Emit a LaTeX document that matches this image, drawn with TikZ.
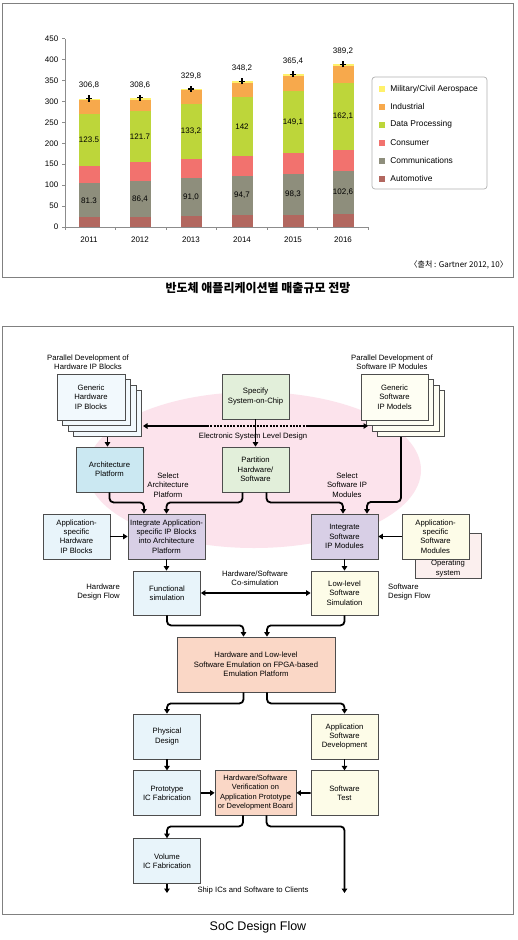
\documentclass[tikz,border=0pt]{standalone}
\usepackage{fontspec}
\setmainfont{Liberation Sans}
\newfontfamily\krfont{Noto Sans CJK KR}
\usetikzlibrary{arrows.meta,positioning,calc}

\definecolor{chAuto}{HTML}{B2675F}
\definecolor{chComm}{HTML}{8E8E7C}
\definecolor{chCons}{HTML}{F2726E}
\definecolor{chData}{HTML}{BDD63A}
\definecolor{chInd}{HTML}{F7A94C}
\definecolor{chMil}{HTML}{FFF16B}
\definecolor{fwFrame}{HTML}{808080}
\definecolor{fwLine}{HTML}{4D4D4D}
\definecolor{fwBlue}{HTML}{E8F4FA}
\definecolor{fwStackB}{HTML}{F2F9FD}
\definecolor{fwArch}{HTML}{CBE8F2}
\definecolor{fwGreen}{HTML}{E2EFDA}
\definecolor{fwLilac}{HTML}{D8CFE6}
\definecolor{fwCream}{HTML}{FDFCE8}
\definecolor{fwStackC}{HTML}{FEFEF3}
\definecolor{fwPeach}{HTML}{FAD7C6}
\definecolor{fwPink}{HTML}{FCE3EC}
\definecolor{fwOS}{HTML}{FBEFEE}

\newcommand\chfont{\fontsize{8}{9.5}\selectfont}
\newcommand\legfont{\fontsize{8.4}{10}\selectfont}
\newcommand\flowfont{\fontsize{7.7}{9.4}\selectfont}

\tikzset{
  panel/.style={draw=fwFrame, line width=0.9pt},
  axisline/.style={draw=black!45, line width=0.6pt},
  chtext/.style={font=\chfont, inner sep=0pt},
  legsq/.style={minimum size=6pt, inner sep=0pt},
  blk/.style={
    draw=fwLine, line width=0.8pt, minimum width=67pt, minimum height=45pt,
    inner sep=1pt, align=center, font=\flowfont
  },
  hwbox/.style={blk, fill=fwBlue},
  hwstack/.style={blk, fill=fwStackB, minimum width=68pt, minimum height=46pt},
  swstack/.style={blk, fill=fwStackC, minimum height=46pt},
  archbox/.style={blk, fill=fwArch},
  gnbox/.style={blk, fill=fwGreen},
  lilbox/.style={blk, fill=fwLilac},
  swbox/.style={blk, fill=fwCream},
  pcbox/.style={blk, fill=fwPeach},
  osbox/.style={blk, fill=fwOS, minimum width=66pt},
  flow/.style={-{Triangle[length=4.5pt,width=5.5pt]}, line width=1.8pt, rounded corners=4pt},
  tag/.style={font=\flowfont, align=center, inner sep=0pt}
}

\begin{document}
\begin{tikzpicture}[x=1pt, y=-1pt]
  \useasboundingbox[fill=white] (0,0) rectangle (518,940);

  % ---- market chart ----
  \draw[panel] (2,3) rectangle (513,277);
  \begin{scope}[shift={(0,227)}, y=0.4185pt]
    \foreach \xc/\sa/\sb/\sc/\sd/\se/\tot/\lco/\ldat/\ltot in {
      89/23/81.3/42/123.5/33/306.8/{81.3}/{123.5}/{306,8},
      140/23/86.4/45/121.7/28/308.6/{86,4}/{121.7}/{308,6},
      191/25.5/91/45/133.2/32.1/329.8/{91,0}/{133,2}/{329,8},
      242/28/94.7/47/142/31.5/348.2/{94,7}/{142}/{348,2},
      293/28/98.3/50/149.1/35/365.4/{98,3}/{149,1}/{365,4},
      343/31/102.6/49.5/162.1/39.5/389.2/{102,6}/{162,1}/{389,2}}
    {
      \pgfmathsetmacro\ya{\sa}
      \pgfmathsetmacro\yb{\ya+\sb}
      \pgfmathsetmacro\yc{\yb+\sc}
      \pgfmathsetmacro\yd{\yc+\sd}
      \pgfmathsetmacro\ye{\yd+\se}
      \pgfmathsetmacro\ymc{(\ya+\yb)/2}
      \pgfmathsetmacro\ymd{(\yc+\yd)/2}
      \fill[chAuto] (\xc-10.5,0) rectangle (\xc+10.5,\ya);
      \fill[chComm] (\xc-10.5,\ya) rectangle (\xc+10.5,\yb);
      \fill[chCons] (\xc-10.5,\yb) rectangle (\xc+10.5,\yc);
      \fill[chData] (\xc-10.5,\yc) rectangle (\xc+10.5,\yd);
      \fill[chInd] (\xc-10.5,\yd) rectangle (\xc+10.5,\ye);
      \fill[chMil] (\xc-10.5,\ye) rectangle (\xc+10.5,\tot);
      \draw[line width=1.1pt] (\xc-3.2,\tot) -- (\xc+3.2,\tot) (\xc,\tot-7.5) -- (\xc,\tot+7.5);
      \node[chtext] at (\xc,\ymc) {\lco};
      \node[chtext] at (\xc,\ymd) {\ldat};
      \node[chtext] at (\xc,\tot+31) {\ltot};
    }
    \draw[axisline] (65,0) -- (65,450);
    \draw[axisline] (65,0) -- (368,0);
    \foreach \v in {0,50,...,450} {
      \draw[axisline] (62,\v) -- (65,\v);
      \node[chtext, anchor=east] at (58.5,\v) {\v};
    }
    \foreach \k in {0,...,6}
      \draw[axisline] (65+50.5*\k,0) -- (65+50.5*\k,-7);
  \end{scope}
  \foreach \xc/\yr in {89/2011,140/2012,191/2013,242/2014,293/2015,343/2016}
    \node[chtext] (yr\yr) at (\xc,240) {\yr};

  \draw[draw=black!30, line width=0.7pt, rounded corners=3pt] (372,77) rectangle (487,189);
  \foreach \c/\t [count=\k from 0] in {chMil/{Military/Civil Aerospace}, chInd/Industrial,
      chData/{Data Processing}, chCons/Consumer, chComm/Communications, chAuto/Automotive}
    \node[legsq, fill=\c, label={[chtext, font=\legfont, xshift=5.5pt]east:\t}] (leg\k) at (381.5,89+17.9*\k) {};

  \node[font=\krfont\fontsize{8}{9.5}\selectfont, anchor=east, inner sep=0pt] (src) at (508,265) {〈출처 : Gartner 2012, 10〉};
  \node[font=\krfont\bfseries\fontsize{12}{14}\selectfont] (cap1) at (258,288) {반도체 애플리케이션별 매출규모 전망};

  % ---- SoC design flow ----
  \draw[panel] (2,326) rectangle (513,914);
  \fill[fwPink] (254,470) ellipse [x radius=167pt, y radius=78pt];

  \foreach \k in {3,2,1} {
    \node[hwstack] (hwip\k) at ($(91,397)+(5.5*\k,5.5*\k)$) {};
    \node[swstack] (swip\k) at ($(394.5,397)+(5.5*\k,5.5*\k)$) {};
  }
  \node[hwstack] (hwip) at (91,397) {Generic\\Hardware\\IP Blocks};
  \node[swstack] (swip) at (394.5,397) {Generic\\Software\\IP Models};
  \node[gnbox] (soc) at (255.5,396.5) {Specify\\System-on-Chip};
  \node[tag] (hwpar) at (88,362) {Parallel Development of\\Hardware IP Blocks};
  \node[tag] (swpar) at (392,362) {Parallel Development of\\Software IP Modules};

  \node[archbox] (arch) at (109.5,469.5) {Architecture\\Platform};
  \node[gnbox] (part) at (255.5,469.5) {Partition\\Hardware/\\Software};
  \node[tag] (selarch) at (168,485) {Select\\Architecture\\Platform};
  \node[tag] (selsw) at (347,485) {Select\\Software IP\\Modules};

  \node[hwbox] (apphw) at (76.5,536.5) {Application-\\specific\\Hardware\\IP Blocks};
  \node[lilbox, minimum width=77pt] (inthw) at (166.5,536.5) {Integrate Application-\\specific IP Blocks\\into Architecture\\Platform};
  \node[lilbox] (intsw) at (344.5,536.5) {Integrate\\Software\\IP Modules};
  \node[osbox, label={[tag, anchor=south, yshift=1.5pt]south:{Operating\\system}}] (os) at (448,555.5) {};
  \node[swbox] (appsw) at (435.5,536.5) {Application-\\specific\\Software\\Modules};

  \node[hwbox, minimum height=44pt] (funsim) at (167,593) {Functional\\simulation};
  \node[swbox, minimum height=44pt] (llsim) at (344.5,593) {Low-level\\Software\\Simulation};
  \node[tag] (cosim) at (255,578) {Hardware/Software\\Co-simulation};
  \node[tag, anchor=east, align=right] (hwflow) at (120,592) {Hardware\\Design Flow};
  \node[tag, anchor=west, align=left] (swflow) at (388,592) {Software\\Design Flow};

  \node[pcbox, minimum width=158pt, minimum height=55pt] (emu) at (256,664.5) {Hardware and Low-level\\Software Emulation on FPGA-based\\Emulation Platform};

  \node[hwbox] (phys) at (167,736.5) {Physical\\Design};
  \node[swbox] (appdev) at (344.5,736.5) {Application\\Software\\Development};
  \node[hwbox, below=11pt of phys] (proto) {Prototype\\IC Fabrication};
  \node[swbox, below=11pt of appdev] (swtest) {Software\\Test};
  \node[pcbox, minimum width=81pt, font=\fontsize{7.5}{9.4}\selectfont] (verif) at (255.5,792.5) {Hardware/Software\\Verification on\\Application Prototype\\or Development Board};
  \node[hwbox, below=22pt of proto] (vol) {Volume\\IC Fabrication};
  \node[tag] (ship) at (253,890) {Ship ICs and Software to Clients};

  \coordinate (eslL) at (143,426);
  \coordinate (eslA) at (207,426);
  \coordinate (eslB) at (308,426);
  \coordinate (eslR) at (368,426);
  \coordinate (shipL) at (167,893);
  \coordinate (shipR) at (344.5,893);

  % connectors
  \draw[flow] (eslA) -- (eslL);
  \draw[flow] (eslB) -- (eslR);
  \draw[line width=1.8pt, dash pattern=on 2pt off 1.3pt] (eslA) -- (eslB);
  \node[tag] (esl) at (253,436.5) {Electronic System Level Design};
  \draw[flow] (soc) -- (part);
  \draw[flow] (hwip3.south) -- (hwip3.south |- arch.north);
  \draw[flow] ($(swip3.south)+(-10,0)$) -- ++(0,65) -| ($(intsw.north)+(22.5,0)$);
  \draw[flow] (arch.south) -- ++(0,10) -| ($(inthw.north)+(-22.5,0)$);
  \draw[flow] ($(part.south)+(-13,0)$) -- ++(0,10) -| (inthw.north);
  \draw[flow] ($(part.south)+(11,0)$) -- ++(0,10) -| ($(intsw.north)+(-1.5,0)$);
  \draw[flow] (apphw) -- (inthw);
  \draw[flow] (appsw) -- (intsw);
  \draw[flow] (inthw.south) -- (inthw.south |- funsim.north);
  \draw[flow] (intsw) -- (llsim);
  \draw[flow, {Triangle[length=4.5pt,width=5.5pt]}-{Triangle[length=4.5pt,width=5.5pt]}] (funsim) -- (llsim);
  \draw[flow] (funsim.south) -- ++(0,10) -| ($(emu.north)+(-12.5,0)$);
  \draw[flow] (llsim.south) -- ++(0,10) -| ($(emu.north)+(11,0)$);
  \draw[flow] ($(emu.south)+(-12.5,0)$) -- ++(0,11) -| (phys.north);
  \draw[flow] ($(emu.south)+(11,0)$) -- ++(0,11) -| (appdev.north);
  \draw[flow] (phys) -- (proto);
  \draw[flow] (appdev) -- (swtest);
  \draw[flow] (proto) -- (verif);
  \draw[flow] (swtest) -- (verif);
  \draw[flow] ($(verif.south)+(-12.5,0)$) -- ++(0,11) -| (vol.north);
  \draw[flow] ($(verif.south)+(11,0)$) -- ++(0,11) -| (shipR);
  \draw[flow] (vol) -- (shipL);

  \node[font=\fontsize{12.5}{14}\selectfont] (cap2) at (258,927) {SoC Design Flow};
\end{tikzpicture}
\end{document}
